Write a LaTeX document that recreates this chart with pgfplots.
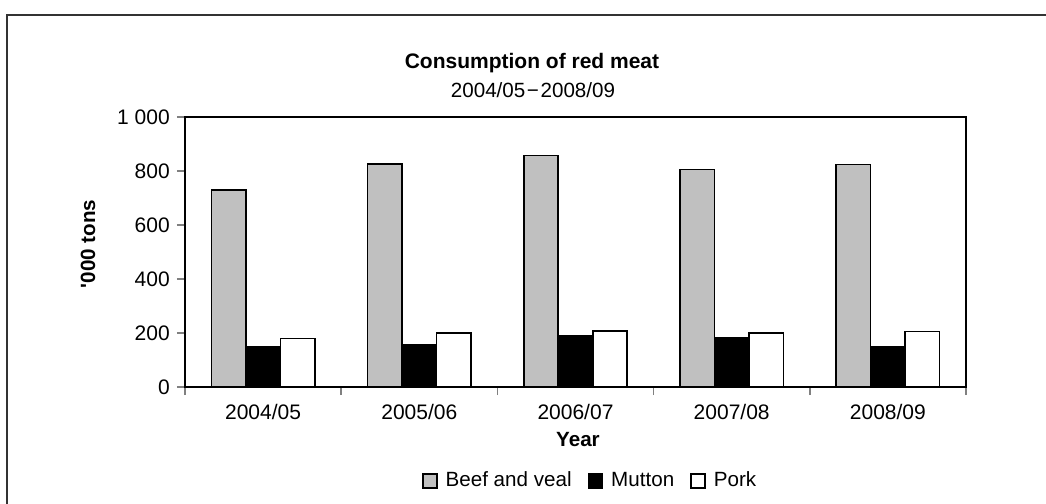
\documentclass[border=0pt]{standalone}
\usepackage{fontspec}
\setmainfont{Liberation Sans}
\usepackage{pgfplots}
\pgfplotsset{compat=1.18}
\begin{document}
\begin{tikzpicture}
\fontsize{10.3pt}{12pt}\selectfont
\begin{axis}[
  at={(92.5pt,-58.5pt)}, anchor=north west,
  scale only axis, width=390.5pt, height=135pt,
  xmin=-0.5, xmax=4.5, ymin=0, ymax=1000,
  ybar=0pt, bar width=17.25pt,
  axis line style={line width=0.8pt},
  tick pos=left, tick align=outside,
  xtick={0,1,2,3,4},
  xticklabels={2004/05,2005/06,2006/07,2007/08,2008/09},
  major x tick style={draw=none},
  minor xtick={-0.5,0.5,1.5,2.5,3.5,4.5},
  minor x tick style={line width=0.8pt},
  minor tick length=4pt,
  major tick length=4pt,
  ytick={0,200,400,600,800,1000},
  yticklabels={0,200,400,600,800,1 000},
  y tick style={line width=0.8pt},
  /pgf/number format/assume math mode=true,
  ticklabel style={font=\fontsize{10.5pt}{12pt}\selectfont},
  xticklabel style={yshift=-1pt},
  legend style={at={(0.52,-0.348)}, anchor=center, draw=none,
    legend columns=3, font=\fontsize{10.3pt}{12pt}\selectfont,
    /tikz/every even column/.append style={column sep=6pt}},
  legend image code/.code={\draw[#1,line width=0.8pt] (0pt,-3.5pt) rectangle (7pt,3.5pt); \path (9pt,0pt);},
]
\addplot[draw=black, line width=0.8pt, fill={rgb,255:red,192;green,192;blue,192}] coordinates {(0,730) (1,825) (2,858) (3,805) (4,824)};
\addplot[draw=black, line width=0.8pt, fill=black] coordinates {(0,148) (1,157) (2,191) (3,181) (4,148)};
\addplot[draw=black, line width=0.8pt, fill=white] coordinates {(0,180) (1,200) (2,207) (3,199) (4,206)};
\legend{Beef and veal, Mutton, Pork}
\end{axis}
\node[font=\bfseries\fontsize{10.5pt}{12pt}\selectfont] at (266pt,-31.5pt) {Consumption of red meat};
\node[font=\fontsize{10.3pt}{12pt}\selectfont] at (266.5pt,-45pt) {2004/05\kern0.8pt−\kern0.8pt2008/09};
\node[font=\bfseries\fontsize{10.3pt}{12pt}\selectfont, rotate=90] at (44pt,-122pt) {\textquotesingle 000 tons};
\node[font=\bfseries\fontsize{10.3pt}{12pt}\selectfont] at (289pt,-220pt) {Year};
\draw[line width=1pt, color=black!80] (3.5pt,-252pt) -- (3.5pt,-7.5pt) -- (523pt,-7.5pt);
\pgfresetboundingbox
\path (0pt,0pt) rectangle (523pt,-252pt);
\end{tikzpicture}
\end{document}
